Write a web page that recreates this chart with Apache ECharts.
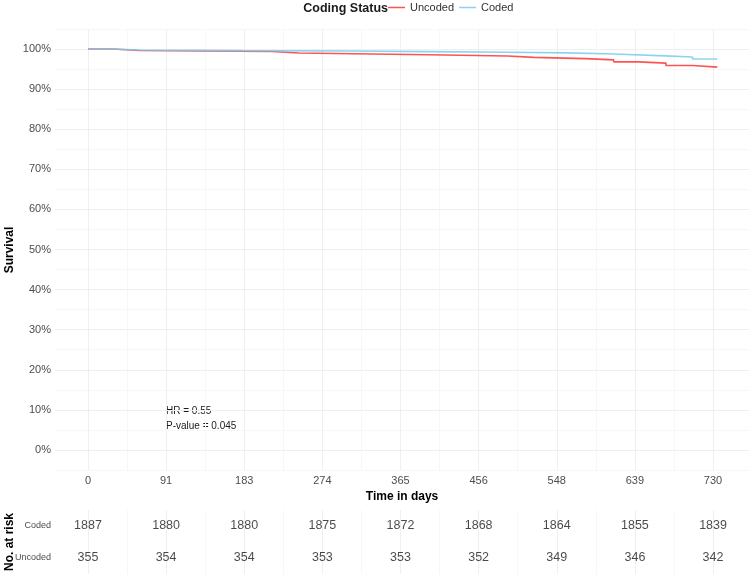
<!DOCTYPE html>
<html>
<head>
<meta charset="utf-8">
<script src="https://cdn.jsdelivr.net/npm/echarts@6/dist/echarts.min.js"></script>
<style>
  html, body { margin: 0; padding: 0; background: #fff; }
  #chart { width: 751px; height: 575px; }
</style>
</head>
<body>
<div id="chart"></div>
<script>
// survival curves (day, survival %)
var uncodedTimes = [0, 29, 60, 215, 246, 309, 398, 490, 521, 581, 614, 643, 675, 706, 735];
var uncodedSurv  = [100, 99.65, 99.4, 99.0, 98.83, 98.58, 98.25, 97.93, 97.6, 97.3, 96.8, 96.5, 95.9, 95.5, 95.5];
var codedTimes = [0, 29, 60, 181, 308, 397, 489, 560, 614, 674, 706, 735];
var codedSurv  = [100, 99.75, 99.6, 99.5, 99.35, 99.2, 99.05, 98.75, 98.3, 98.0, 97.5, 97.5];

// risk table
var riskTimes = [0, 91.25, 182.5, 273.75, 365, 456.25, 547.5, 638.75, 730];
var codedRisk   = [1887, 1880, 1880, 1875, 1872, 1868, 1864, 1855, 1839];
var uncodedRisk = [355, 354, 354, 353, 353, 352, 349, 346, 342];
var riskGroups = ['Uncoded', 'Coded'];

var survTicks = [0, 10, 20, 30, 40, 50, 60, 70, 80, 90, 100];

var FONT = 'Liberation Sans, Arial, sans-serif';
var RED = 'rgba(255,40,40,0.8)';
var BLUE = 'rgba(120,205,235,0.85)';

function pairs(xs, ys) {
    return xs.map(function(x, i) { return [x, ys[i]]; });
}

// vertical grid lines (major at breaks, minor between them)
var vLines = [];
riskTimes.forEach(function(t, i) {
    vLines.push({ xAxis: t, lineStyle: { color: '#efefef', width: 1, type: 'solid' } });
    if (i < riskTimes.length - 1) {
        vLines.push({ xAxis: (t + riskTimes[i + 1]) / 2, lineStyle: { color: '#f7f7f7', width: 1, type: 'solid' } });
    }
});

var riskData = [];
riskTimes.forEach(function(t, i) {
    riskData.push([t, 'Coded', codedRisk[i]]);
    riskData.push([t, 'Uncoded', uncodedRisk[i]]);
});

var chart = echarts.init(document.getElementById('chart'));

var option = {
    animation: false,
    backgroundColor: '#fff',
    textStyle: { fontFamily: FONT },
    grid: [
        { left: 55, right: 2, top: 29, height: 441, outerBoundsMode: 'none', containLabel: false },
        { left: 55, right: 2, top: 510, height: 64, outerBoundsMode: 'none', containLabel: false }
    ],
    legend: {
        left: 388,
        top: 2,
        padding: 0,
        itemWidth: 17,
        itemHeight: 1.5,
        itemGap: 5,
        icon: 'rect',
        data: ['Uncoded', 'Coded'],
        textStyle: { fontSize: 11, color: '#333', fontFamily: FONT, padding: [0, 0, 0, 0] }
    },
    graphic: [
        {
            type: 'text', right: 751 - 388, top: 2,
            style: { text: 'Coding Status', font: 'bold 12.5px ' + FONT, fill: '#1a1a1a', textAlign: 'right' }
        },
        {
            type: 'text', x: 10, y: 250, rotation: Math.PI / 2,
            style: { text: 'Survival', font: 'bold 12px ' + FONT, fill: '#000', align: 'center', verticalAlign: 'middle' }
        },
        {
            type: 'text', x: 10, y: 542, rotation: Math.PI / 2,
            style: { text: 'No. at risk', font: 'bold 12px ' + FONT, fill: '#000', align: 'center', verticalAlign: 'middle' }
        },
        {
            type: 'text', left: 166, top: 406,
            style: { text: 'HR = 0.55', font: '10px ' + FONT, fill: '#1a1a1a' }
        },
        {
            type: 'text', left: 166, top: 421,
            style: { text: 'P-value = 0.045', font: '10px ' + FONT, fill: '#1a1a1a' }
        }
    ],
    xAxis: [
        {
            type: 'value', gridIndex: 0, min: -38.5, max: 772,
            name: 'Time in days', nameLocation: 'middle', nameGap: 9,
            nameTextStyle: { fontWeight: 'bold', fontSize: 12, color: '#000' },
            axisLine: { show: false }, axisTick: { show: false },
            splitLine: { show: false },
            axisLabel: {
                customValues: riskTimes,
                formatter: function(v) { return Math.round(v); },
                color: '#4d4d4d', fontSize: 11, margin: 5
            }
        },
        {
            type: 'value', gridIndex: 1, min: -38.5, max: 772,
            axisLine: { show: false }, axisTick: { show: false },
            splitLine: { show: false }, axisLabel: { show: false }
        }
    ],
    yAxis: [
        {
            type: 'value', gridIndex: 0, min: -5, max: 105, interval: 5,
            axisLine: { show: false }, axisTick: { show: false },
            splitLine: { lineStyle: { color: ['#f7f7f7', '#efefef'], width: 1 } },
            axisLabel: {
                color: '#4d4d4d', fontSize: 11, margin: 4,
                formatter: function(v) {
                    return survTicks.indexOf(v) >= 0 ? v + '%' : '';
                }
            }
        },
        {
            type: 'category', gridIndex: 1, data: riskGroups,
            axisLine: { show: false }, axisTick: { show: false },
            splitLine: { show: false },
            axisLabel: { color: '#4d4d4d', fontSize: 9, margin: 4, fontFamily: 'Liberation Sans Narrow, ' + FONT }
        }
    ],
    series: [
        {
            type: 'line', xAxisIndex: 0, yAxisIndex: 0, data: [], silent: true, z: 0,
            markLine: { silent: true, symbol: 'none', label: { show: false }, data: vLines, z: 0 }
        },
        {
            type: 'line', xAxisIndex: 1, yAxisIndex: 1, data: [], silent: true, z: 0,
            markLine: { silent: true, symbol: 'none', label: { show: false }, data: vLines, z: 0 }
        },
        {
            name: 'Uncoded', type: 'line', step: 'end', xAxisIndex: 0, yAxisIndex: 0, z: 3,
            symbol: 'none', data: pairs(uncodedTimes, uncodedSurv),
            lineStyle: { color: RED, width: 1.6 }, itemStyle: { color: RED }
        },
        {
            name: 'Coded', type: 'line', step: 'end', xAxisIndex: 0, yAxisIndex: 0, z: 3,
            symbol: 'none', data: pairs(codedTimes, codedSurv),
            lineStyle: { color: BLUE, width: 1.6 }, itemStyle: { color: BLUE }
        },
        {
            type: 'scatter', xAxisIndex: 1, yAxisIndex: 1, data: riskData, z: 5,
            symbolSize: 1, itemStyle: { color: 'transparent' }, silent: true,
            label: {
                show: true, position: 'inside', fontSize: 12.5, color: '#1a1a1a',
                fontFamily: 'Liberation Sans Narrow, ' + FONT,
                formatter: function(p) { return p.value[2]; }
            }
        }
    ]
};

chart.setOption(option);
</script>
</body>
</html>
